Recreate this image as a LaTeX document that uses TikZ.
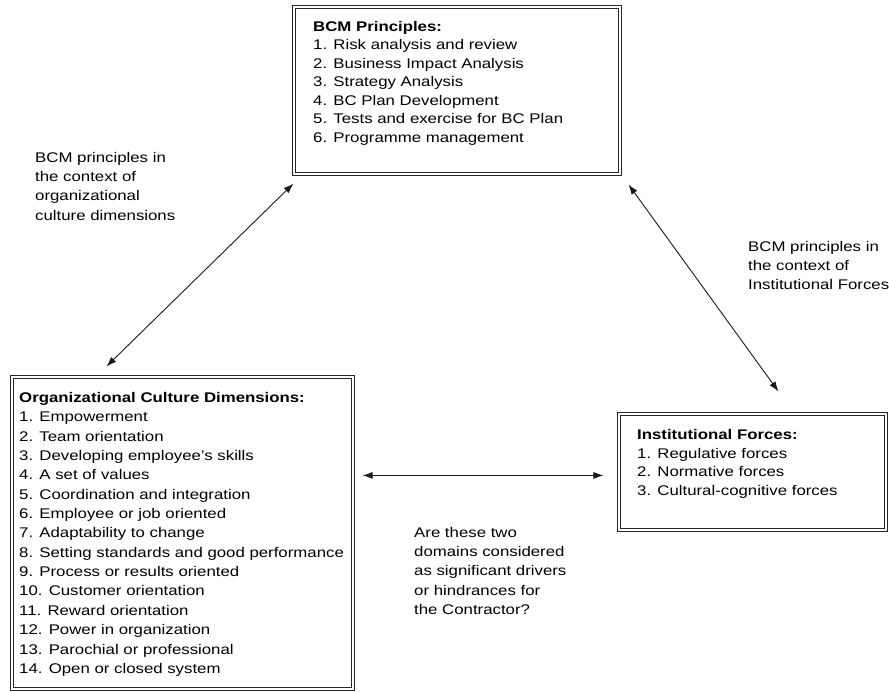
\documentclass[tikz,border=0pt]{standalone}
\usepackage{fontspec}
\setmainfont[FakeStretch=1.2]{Liberation Sans}
\usetikzlibrary{arrows.meta,calc}

\tikzset{
  dblbox/.style={draw=black!85, line width=1.1pt, double=white, double distance=2.4pt, inner sep=0pt},
  listtext/.style={anchor=north west, align=left, inner sep=0pt, font=\fontsize{14}{18.5}\selectfont},
  labeltext/.style={anchor=north west, align=left, inner sep=0pt, font=\fontsize{14}{19.3}\selectfont},
  link/.style={draw=black!90, line width=0.9pt, {Latex[length=10pt,width=7pt]}-{Latex[length=10pt,width=7pt]}}
}

\begin{document}
\begin{tikzpicture}[x=1pt,y=-1pt]
  \useasboundingbox (0,0) rectangle (889,692);

  % the three framed boxes
  \node[dblbox, minimum width=326pt, minimum height=167pt] (bcm) at (457,90.5) {};
  \node[dblbox, minimum width=341pt, minimum height=312pt] (ocd) at (182.5,533) {};
  \node[dblbox, minimum width=267pt, minimum height=116pt] (inst) at (752.5,472) {};

  % box contents
  \node[listtext] (bcmtext) at (313,21) {\textbf{BCM Principles:}\\
    1. Risk analysis and review\\
    2. Business Impact Analysis\\
    3. Strategy Analysis\\
    4. BC Plan Development\\
    5. Tests and exercise for BC Plan\\
    6. Programme management};

  \node[listtext, font=\fontsize{14}{19.36}\selectfont] (ocdtext) at (19,392) {\textbf{Organizational Culture Dimensions:}\\
    1. Empowerment\\
    2. Team orientation\\
    3. Developing employee’s skills\\
    4. A set of values\\
    5. Coordination and integration\\
    6. Employee or job oriented\\
    7. Adaptability to change\\
    8. Setting standards and good performance\\
    9. Process or results oriented\\
    10. Customer orientation\\
    11. Reward orientation\\
    12. Power in organization\\
    13. Parochial or professional\\
    14. Open or closed system};

  \node[listtext, font=\fontsize{14}{18.8}\selectfont] (insttext) at (637,429) {\textbf{Institutional Forces:}\\
    1. Regulative forces\\
    2. Normative forces\\
    3. Cultural-cognitive forces};

  % connector labels
  \node[labeltext] (lbl-ocd) at (35,152) {BCM principles in\\the context of\\organizational\\culture dimensions};
  \node[labeltext] (lbl-inst) at (748,241) {BCM principles in\\the context of\\Institutional Forces};
  \node[labeltext] (lbl-mid) at (414,527) {Are these two\\domains considered\\as significant drivers\\or hindrances for\\the Contractor?};

  % arrow end points just off the box corners
  \coordinate (a1) at ($(bcm.south west)+(0,9)$);
  \coordinate (a2) at ($(ocd.north west)+(95,-10)$);
  \coordinate (b1) at ($(bcm.south east)+(8,10)$);
  \coordinate (b2) at ($(inst.north west)+(160,-22)$);
  \coordinate (c1) at ($(ocd.north east)+(9,99)$);
  \coordinate (c2) at ($(inst.north west)+(-15,62)$);

  \draw[link] (a2) -- (a1);
  \draw[link] (b1) -- (b2);
  \draw[link] (c1) -- (c2);
\end{tikzpicture}
\end{document}
